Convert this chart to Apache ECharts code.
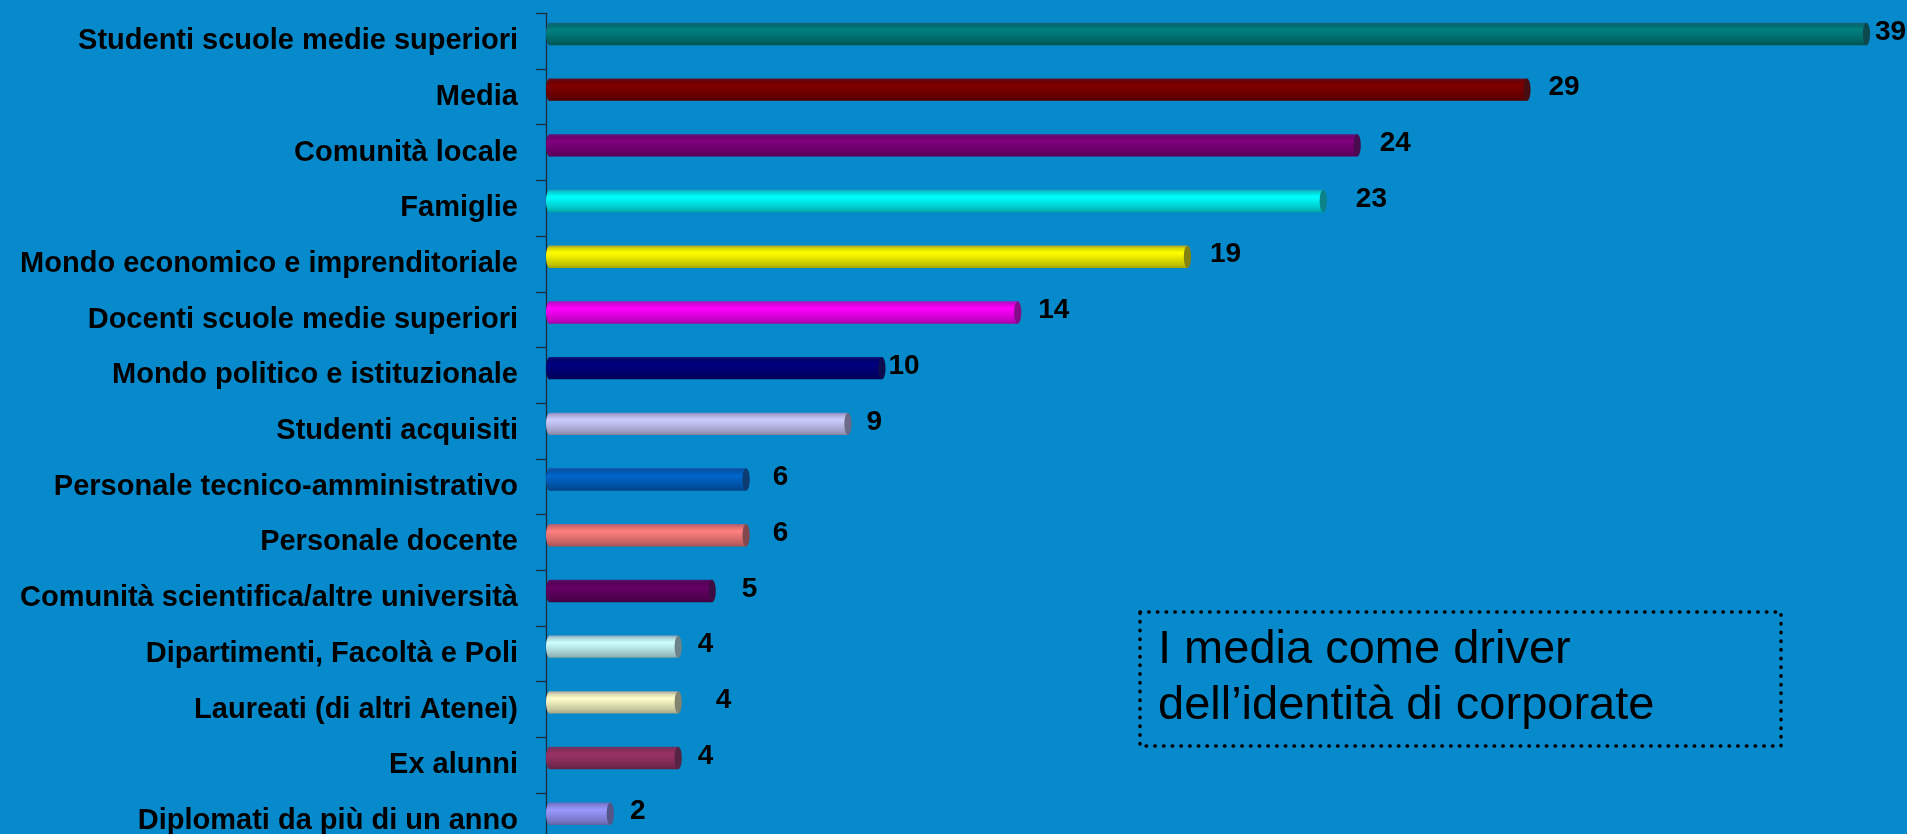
<!DOCTYPE html>
<html>
<head>
<meta charset="utf-8">
<style>
  html, body { margin: 0; padding: 0; background: #068ACB; overflow: hidden; }
  #chart { width: 1907px; height: 870px; }
</style>
<script src="https://cdn.jsdelivr.net/npm/echarts@6/dist/echarts.min.js"></script>
</head>
<body>
<div id="chart"></div>
<script>
// Stakeholder categories, top to bottom
const categories = [
  'Studenti scuole medie superiori',
  'Media',
  'Comunità locale',
  'Famiglie',
  'Mondo economico e imprenditoriale',
  'Docenti scuole medie superiori',
  'Mondo politico e istituzionale',
  'Studenti acquisiti',
  'Personale tecnico-amministrativo',
  'Personale docente',
  'Comunità scientifica/altre università',
  'Dipartimenti, Facoltà e Poli',
  'Laureati (di altri Atenei)',
  'Ex alunni',
  'Diplomati da più di un anno'
];

const values = [39, 29, 24, 23, 19, 14, 10, 9, 6, 6, 5, 4, 4, 4, 2];

// One fill colour per cylinder
const barColors = [
  '#008080', '#800000', '#800080', '#00FFFF', '#FFFF00',
  '#FF00FF', '#000080', '#CCCCFF', '#0066CC', '#FF8080',
  '#660066', '#CCFFFF', '#FFFFCC', '#993366', '#9999FF'
];

// Horizontal spacing between each cylinder end and its value label
const labelGap = [5, 18, 19, 29, 19, 17, 3, 15, 23, 23, 26, 16, 34, 16, 16];

const noteText = 'I media come driver\ndell\u2019identità di corporate';

function hexToRgb(h) {
  const n = parseInt(h.slice(1), 16);
  return [(n >> 16) & 255, (n >> 8) & 255, n & 255];
}
function rgb(c) {
  return 'rgb(' + c.map(v => Math.max(0, Math.min(255, Math.round(v)))).join(',') + ')';
}
function shade(h, f) {
  return rgb(hexToRgb(h).map(v => v * f));
}
function mix(h, other, t, f) {
  const a = hexToRgb(h), b = hexToRgb(other);
  return rgb(a.map((v, i) => (v * (1 - t) + b[i] * t) * (f || 1)));
}

// Shaded fill that gives each bar a cylindrical look
function cylinderFill(c) {
  return new echarts.graphic.LinearGradient(0, 0, 0, 1, [
    { offset: 0.00, color: mix(c, '#5a5ad0', 0.3, 0.8) },
    { offset: 0.14, color: shade(c, 0.86) },
    { offset: 0.32, color: shade(c, 1.0) },
    { offset: 0.55, color: shade(c, 0.9) },
    { offset: 0.85, color: shade(c, 0.76) },
    { offset: 1.00, color: shade(c, 0.64) }
  ]);
}

const chart = echarts.init(document.getElementById('chart'), null, { renderer: 'canvas' });

const FONT = '"Liberation Sans", Arial, Helvetica, sans-serif';

const option = {
  backgroundColor: '#068ACB',
  animation: false,
  grid: { left: 546, top: 13.3, width: 1358, height: 835.5, containLabel: false },
  xAxis: { type: 'value', min: 0, max: 40, show: false },
  yAxis: {
    type: 'category',
    inverse: true,
    data: categories,
    offset: 6,
    axisLine: { show: true, lineStyle: { color: '#1d2b3c', width: 1.3 } },
    axisTick: { show: true, length: 10, lineStyle: { color: '#1d2b3c', width: 1.3 } },
    axisLabel: {
      color: '#000',
      fontFamily: FONT,
      fontWeight: 'bold',
      fontSize: 29,
      margin: 22
    },
    splitLine: { show: false }
  },
  series: [{
    type: 'custom',
    data: values.map((v, i) => [v, i]),
    encode: { x: 0, y: 1 },
    clip: false,
    renderItem: function (params, api) {
      const v = api.value(0);
      const idx = api.value(1);
      const p0 = api.coord([0, idx]);
      const p1 = api.coord([v, idx]);
      const h = 22.4;
      const rx = 3.6;
      const cy = p0[1] - 7.2;
      const x0 = p0[0];
      const x1 = p1[0];
      const c = barColors[idx];
      return {
        type: 'group',
        children: [
          {
            type: 'ellipse',
            shape: { cx: x0 + rx, cy: cy, rx: rx, ry: h / 2 },
            style: { fill: cylinderFill(c) }
          },
          {
            type: 'rect',
            shape: { x: x0 + rx, y: cy - h / 2, width: Math.max(0, x1 - x0 - 2 * rx), height: h },
            style: { fill: cylinderFill(c) }
          },
          {
            type: 'ellipse',
            shape: { cx: x1 - rx, cy: cy, rx: rx, ry: h / 2 },
            style: { fill: mix(c, '#505078', 0.25, 0.62) }
          },
          {
            type: 'text',
            style: {
              text: String(v),
              x: x1 + labelGap[idx],
              y: cy - 2,
              align: 'left',
              verticalAlign: 'middle',
              fill: '#000',
              font: 'bold 28px ' + FONT
            }
          }
        ]
      };
    }
  }],
  graphic: [
    {
      type: 'rect',
      shape: { x: 1140, y: 612, width: 641, height: 134 },
      style: {
        fill: 'none',
        stroke: '#000',
        lineWidth: 3.5,
        lineDash: [0.5, 8.2],
        lineCap: 'round'
      }
    },
    {
      type: 'text',
      style: {
        text: noteText,
        x: 1158,
        y: 678,
        align: 'left',
        verticalAlign: 'middle',
        lineHeight: 56,
        fill: '#000',
        font: '47px ' + FONT
      }
    }
  ]
};

chart.setOption(option);
</script>
</body>
</html>
